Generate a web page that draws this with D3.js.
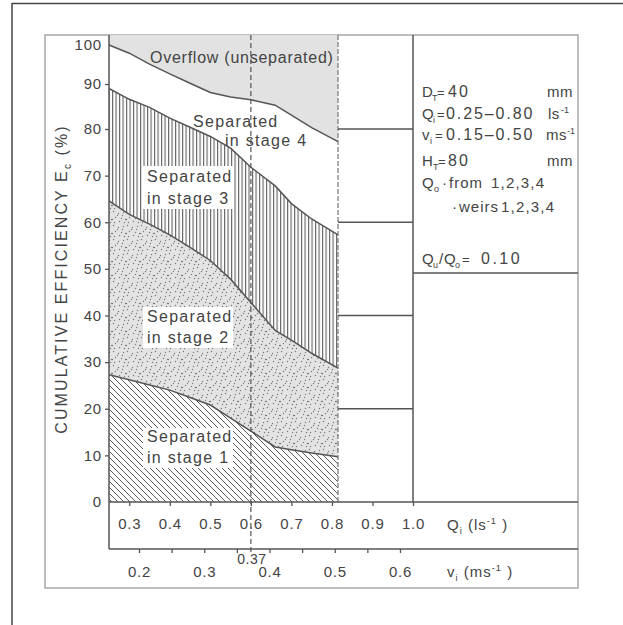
<!DOCTYPE html>
<html>
<head>
<meta charset="utf-8">
<script src="https://cdn.jsdelivr.net/npm/d3@7"></script>
<style>
body { margin: 0; background: #fff; }
svg { display: block; }
text { font-family: "Liberation Sans", Arial, sans-serif; fill: #444; }
</style>
</head>
<body>
<script>
// inlet flow rate Qi (l/s) where the band edges were read
var qPoints = [0.25, 0.3, 0.35, 0.4, 0.45, 0.5, 0.55, 0.6, 0.66, 0.7, 0.75, 0.815];

// upper edge of each band, cumulative efficiency Ec in %
var stage1Top = [27.3, 26.2, 25.1, 24.0, 22.4, 20.8, 18.0, 15.2, 11.8, 11.2, 10.5, 9.7];
var stage2Top = [64.6, 61.7, 59.6, 57.3, 54.6, 51.8, 47.8, 42.8, 36.8, 34.7, 31.9, 28.7];
var stage3Top = [89.0, 86.6, 84.8, 82.4, 80.4, 78.4, 75.9, 71.8, 67.8, 64.0, 60.7, 57.3];
var stage4Top = [100, 97.9, 95.1, 92.6, 90.2, 88.1, 87.1, 86.5, 85.3, 83.1, 80.3, 77.3];

// axis ticks
var qTicks = [0.3, 0.4, 0.5, 0.6, 0.7, 0.8, 0.9, 1.0];
var vTicks = [0.2, 0.25, 0.3, 0.35, 0.4, 0.45, 0.5, 0.55, 0.6];
var eTicks = [0, 10, 20, 30, 40, 50, 60, 70, 80, 90, 100];
var cellLines = [20, 40, 60, 80];

// marked operating point
var markerQ = 0.6;
var markerLabel = '0.37';

var width = 623, height = 625;
var lineColor = '#555';

var svg = d3.select('body').append('svg')
    .attr('width', width)
    .attr('height', height);

// scales (the scanned figure is a bit compressed near the top, hence the extra stops)
var x = d3.scaleLinear().domain([0.25, 1.0]).range([109, 413]);
var xv = d3.scaleLinear().domain([0.2, 0.6]).range([139, 400]);
var y = d3.scaleLinear().domain([0, 80, 90, 100]).range([502, 129, 84, 45]);

var frameTop = 35, frameLeft = 45, frameRight = 578, frameBottom = 588;
var vAxisY = 549;

var rows = qPoints.map(function(q, i) {
    return { q: q, e1: stage1Top[i], e2: stage2Top[i], e3: stage3Top[i], e4: stage4Top[i] };
});

// fill patterns
var defs = svg.append('defs');

var hatch = defs.append('pattern').attr('id', 'hatch')
    .attr('patternUnits', 'userSpaceOnUse').attr('width', 6).attr('height', 6);
hatch.append('rect').attr('width', 6).attr('height', 6).attr('fill', '#fff');
hatch.append('path').attr('d', 'M-1,-1L7,7M-1,5L1,7M5,-1L7,1')
    .attr('stroke', '#5c5c5c').attr('stroke-width', 1);

var stippleDots = [[1, 1], [6, 3], [3, 7], [9, 8], [11, 2], [7, 11], [2, 12], [12, 12], [5, 5], [10, 5], [13, 9], [0, 9]];
var stipple = defs.append('pattern').attr('id', 'stipple')
    .attr('patternUnits', 'userSpaceOnUse').attr('width', 14).attr('height', 14);
stipple.append('rect').attr('width', 14).attr('height', 14).attr('fill', '#e3e3e3');
stipple.selectAll('circle').data(stippleDots).enter().append('circle')
    .attr('cx', function(d) { return d[0] + 0.5; })
    .attr('cy', function(d) { return d[1] + 0.5; })
    .attr('r', 0.7)
    .attr('fill', '#7a7a7a');

var vlines = defs.append('pattern').attr('id', 'vlines')
    .attr('patternUnits', 'userSpaceOnUse').attr('width', 3.5).attr('height', 10);
vlines.append('rect').attr('width', 3.5).attr('height', 10).attr('fill', '#fff');
vlines.append('line').attr('x1', 0.6).attr('x2', 0.6).attr('y1', 0).attr('y2', 10)
    .attr('stroke', '#4f4f4f').attr('stroke-width', 1);

// outer frame (top and left only, as scanned)
svg.append('line').attr('x1', 12).attr('x2', width).attr('y1', 3.5).attr('y2', 3.5)
    .attr('stroke', '#444').attr('stroke-width', 1.5);
svg.append('line').attr('x1', 12).attr('x2', 12).attr('y1', 3).attr('y2', height)
    .attr('stroke', '#444').attr('stroke-width', 1.5);

// inner frame
svg.append('rect')
    .attr('x', frameLeft).attr('y', frameTop)
    .attr('width', frameRight - frameLeft).attr('height', frameBottom - frameTop)
    .attr('fill', 'none').attr('stroke', '#a8a8a8').attr('stroke-width', 1.5);

// bands
function band(lo, hi) {
    return d3.area()
        .x(function(d) { return x(d.q); })
        .y0(lo)
        .y1(hi);
}

var plot = svg.append('g');

plot.append('path').datum(rows)
    .attr('d', band(function(d) { return y(d.e4); }, frameTop))
    .attr('fill', '#e2e2e2');
plot.append('path').datum(rows)
    .attr('d', band(function(d) { return y(d.e2); }, function(d) { return y(d.e3); }))
    .attr('fill', 'url(#vlines)');
plot.append('path').datum(rows)
    .attr('d', band(function(d) { return y(d.e1); }, function(d) { return y(d.e2); }))
    .attr('fill', 'url(#stipple)');
plot.append('path').datum(rows)
    .attr('d', band(function(d) { return y(0); }, function(d) { return y(d.e1); }))
    .attr('fill', 'url(#hatch)');

// band edges
['e1', 'e2', 'e3', 'e4'].forEach(function(key) {
    plot.append('path').datum(rows)
        .attr('d', d3.line()
            .x(function(d) { return x(d.q); })
            .y(function(d) { return y(d[key]); }))
        .attr('fill', 'none')
        .attr('stroke', lineColor)
        .attr('stroke-width', 1.5);
});

// band labels (white patches behind the text, as in the original)
var labelBoxes = [[143, 166, 90, 43], [143, 307, 90, 41], [143, 428, 90, 40]];
plot.selectAll('rect.patch').data(labelBoxes).enter().append('rect')
    .attr('class', 'patch')
    .attr('x', function(d) { return d[0]; })
    .attr('y', function(d) { return d[1]; })
    .attr('width', function(d) { return d[2]; })
    .attr('height', function(d) { return d[3]; })
    .attr('fill', '#fff');

var bandText = [
    ['Overflow (unseparated)', 150, 63, 0.75],
    ['Separated', 193, 127, 1.3],
    ['in stage 4', 225, 146, 1.3],
    ['Separated', 147, 182, 1.3],
    ['in stage 3', 147, 204, 1.3],
    ['Separated', 147, 322, 1.3],
    ['in stage 2', 147, 343, 1.3],
    ['Separated', 147, 442, 1.3],
    ['in stage 1', 147, 463, 1.3]
];
plot.selectAll('text.band').data(bandText).enter().append('text')
    .attr('class', 'band')
    .attr('x', function(d) { return d[1]; })
    .attr('y', function(d) { return d[2]; })
    .style('font-size', '16px')
    .style('letter-spacing', function(d) { return d[3] + 'px'; })
    .text(function(d) { return d[0]; });

// right-hand cells
var qEnd = qPoints[qPoints.length - 1];
svg.append('line')
    .attr('x1', x(qEnd)).attr('x2', x(qEnd))
    .attr('y1', frameTop).attr('y2', y(0))
    .attr('stroke', '#777').attr('stroke-width', 1.2)
    .attr('stroke-dasharray', '5,2');
svg.selectAll('line.cell').data(cellLines).enter().append('line')
    .attr('class', 'cell')
    .attr('x1', x(qEnd)).attr('x2', x(1.0))
    .attr('y1', function(d) { return y(d); })
    .attr('y2', function(d) { return y(d); })
    .attr('stroke', lineColor).attr('stroke-width', 1.3);
svg.append('line')
    .attr('x1', x(1.0)).attr('x2', x(1.0))
    .attr('y1', frameTop).attr('y2', y(0))
    .attr('stroke', lineColor).attr('stroke-width', 1.5);
svg.append('line')
    .attr('x1', x(1.0)).attr('x2', frameRight)
    .attr('y1', 273).attr('y2', 273)
    .attr('stroke', lineColor).attr('stroke-width', 1.5);

// marker line at Qi = 0.6 (vi = 0.37)
svg.append('line')
    .attr('x1', x(markerQ)).attr('x2', x(markerQ))
    .attr('y1', frameTop).attr('y2', vAxisY + 4)
    .attr('stroke', '#555').attr('stroke-width', 1.2)
    .attr('stroke-dasharray', '5,3');
svg.append('text')
    .attr('x', x(markerQ) + 1).attr('y', 564)
    .attr('text-anchor', 'middle')
    .style('font-size', '14px')
    .style('letter-spacing', '0.5px')
    .text(markerLabel);

// axes frame lines
svg.append('line')
    .attr('x1', x(0.25)).attr('x2', x(0.25))
    .attr('y1', frameTop).attr('y2', vAxisY)
    .attr('stroke', lineColor).attr('stroke-width', 1.5);
svg.append('line')
    .attr('x1', x(0.25)).attr('x2', frameRight)
    .attr('y1', y(0)).attr('y2', y(0))
    .attr('stroke', lineColor).attr('stroke-width', 1.5);
svg.append('line')
    .attr('x1', x(0.25)).attr('x2', frameRight)
    .attr('y1', vAxisY).attr('y2', vAxisY)
    .attr('stroke', lineColor).attr('stroke-width', 1.5);

function styleAxis(g) {
    g.select('.domain').remove();
    g.selectAll('.tick line').attr('stroke', lineColor).attr('stroke-width', 1.3);
    g.selectAll('.tick text')
        .attr('fill', '#444')
        .style('font-family', '"Liberation Sans", Arial, sans-serif')
        .style('font-size', '15px')
        .style('letter-spacing', '0.8px');
}

svg.append('g')
    .attr('transform', 'translate(0,' + y(0) + ')')
    .call(d3.axisBottom(x).tickValues(qTicks).tickSize(4).tickPadding(12)
        .tickFormat(d3.format('.1f')))
    .call(styleAxis);

svg.append('g')
    .attr('transform', 'translate(0,' + vAxisY + ')')
    .call(d3.axisBottom(xv).tickValues(vTicks).tickSize(4).tickPadding(13)
        .tickFormat(function(d) { return Math.round(d * 100) % 10 === 0 ? d.toFixed(1) : ''; }))
    .call(styleAxis);

svg.append('g')
    .attr('transform', 'translate(' + x(0.25) + ',0)')
    .call(d3.axisLeft(y).tickValues(eTicks).tickSize(4).tickPadding(3))
    .call(styleAxis)
    .selectAll('.tick')
    .filter(function(d) { return d === 0 || d === 100; })
    .select('line').remove();

// rich text helper: pieces are [text, 'sub' | 'sup' | '']
function rich(xPos, yPos, pieces, size, spacing) {
    var t = svg.append('text')
        .attr('x', xPos).attr('y', yPos)
        .style('font-size', size + 'px')
        .style('letter-spacing', spacing + 'px');
    var shift = 0;
    pieces.forEach(function(p) {
        var target = p[1] === 'sub' ? 4 : p[1] === 'sup' ? -6 : 0;
        t.append('tspan')
            .attr('dy', target - shift)
            .style('font-size', p[1] ? (size * 0.62) + 'px' : null)
            .text(p[0]);
        shift = target;
    });
    return t;
}

// placed text pieces: [text, x, kind, size, spacing]
function placed(yPos, pieces) {
    pieces.forEach(function(p) {
        var kind = p[2] || '';
        svg.append('text')
            .attr('x', p[1])
            .attr('y', yPos + (kind === 'sub' ? 4 : kind === 'sup' ? -6 : 0))
            .style('font-size', (p[3] || 15) + 'px')
            .style('letter-spacing', (p[4] || 0) + 'px')
            .text(p[0]);
    });
}

// axis titles
svg.append('g')
    .attr('transform', 'translate(67,279) rotate(-90)')
    .append('text')
    .attr('text-anchor', 'middle')
    .style('font-size', '16px')
    .style('letter-spacing', '2.1px')
    .call(function(t) {
        t.append('tspan').text('CUMULATIVE EFFICIENCY E');
        t.append('tspan').attr('dy', 4).style('font-size', '10px').text('c');
        t.append('tspan').attr('dy', -4).text(' (%)');
    });

rich(447, 530, [['Q', ''], ['i', 'sub'], [' (ls', ''], ['-1', 'sup'], [' )', '']], 15, 1);
rich(447, 577, [['v', ''], ['i', 'sub'], [' (ms', ''], ['-1', 'sup'], [' )', '']], 15, 1);

// parameter box
placed(97, [['D', 422], ['T', 432, 'sub', 9], ['=', 437, '', 13], ['40', 448, '', 16, 2]]);
placed(97, [['mm', 547, '', 15, 0.5]]);
placed(119, [['Q', 422], ['i', 433, 'sub', 9], ['=', 437, '', 13], ['0.25\u20130.80', 446, '', 16, 1.9]]);
placed(119, [['ls', 548, '', 15, 0.5], ['-1', 561, 'sup', 9]]);
placed(140, [['v', 422], ['i', 430, 'sub', 9], ['=', 435, '', 13], ['0.15\u20130.50', 446, '', 16, 1.9]]);
placed(140, [['ms', 546, '', 15, 0.5], ['-1', 567, 'sup', 9]]);
placed(166, [['H', 422], ['T', 433, 'sub', 9], ['=', 438, '', 13], ['80', 448, '', 16, 2]]);
placed(166, [['mm', 547, '', 15, 0.5]]);
placed(188, [['Q', 422], ['o', 434, 'sub', 9], ['\u00b7', 442, '', 15], ['from', 449, '', 15, 1]]);
placed(188, [['1,2,3,4', 491, '', 15, 1.2]]);
placed(212, [['\u00b7', 452, '', 15], ['weirs', 459, '', 15, 1]]);
placed(212, [['1,2,3,4', 501, '', 15, 1.2]]);
placed(264, [['Q', 422], ['u', 433, 'sub', 9], ['/', 439], ['Q', 444], ['o', 455, 'sub', 9], ['=', 462, '', 13]]);
placed(264, [['0.10', 481, '', 16, 2.5]]);
</script>
</body>
</html>
